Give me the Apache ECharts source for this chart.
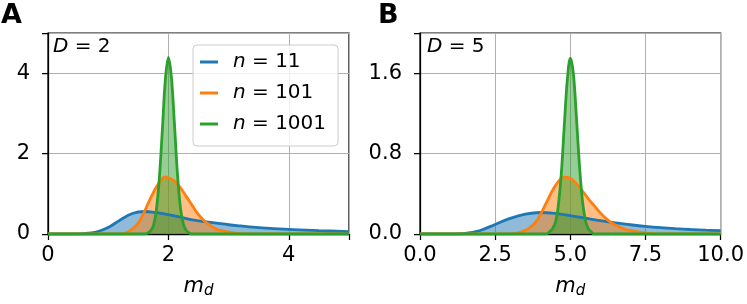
<!DOCTYPE html>
<html><head><meta charset="utf-8">
<script src="https://cdn.jsdelivr.net/npm/echarts@6/dist/echarts.min.js"></script>
<style>html,body{margin:0;padding:0;background:#fff}#c{width:747px;height:304px}</style>
</head><body><div id="c"></div>
<script>
const FONT = 'DejaVu Sans';
// ---- Panel A (D = 2) ----
const xA11 = [0, 0.4, 0.6, 0.8, 1.0, 1.2, 1.4, 1.6, 1.8, 2.0, 2.2, 2.4, 2.6, 2.8, 3.0, 3.2, 3.5, 4.0, 4.5, 5.0];
const yA11 = [0, 0, 0.01, 0.05, 0.16, 0.35, 0.51, 0.56, 0.53, 0.48, 0.42, 0.35, 0.31, 0.27, 0.23, 0.2, 0.16, 0.115, 0.085, 0.06];
const xA101 = [0, 1.2, 1.3, 1.4, 1.5, 1.6, 1.7, 1.8, 1.9, 1.95, 2.0, 2.1, 2.2, 2.3, 2.4, 2.5, 2.6, 2.7, 2.8, 2.9, 3.0, 3.2, 3.4, 5.0];
const yA101 = [0, 0, 0.03, 0.12, 0.27, 0.55, 0.88, 1.17, 1.38, 1.42, 1.40, 1.32, 1.15, 0.93, 0.70, 0.48, 0.32, 0.21, 0.12, 0.08, 0.05, 0.01, 0, 0];
const xA1001 = [0, 1.6, 1.65, 1.7, 1.75, 1.8, 1.85, 1.9, 1.95, 2.0, 2.05, 2.1, 2.15, 2.2, 2.25, 2.3, 2.35, 2.4, 5.0];
const yA1001 = [0, 0, 0.02, 0.07, 0.2, 0.6, 1.4, 2.6, 3.85, 4.39, 3.9, 2.75, 1.5, 0.65, 0.24, 0.08, 0.02, 0, 0];
// ---- Panel B (D = 5) ----
const xB11 = [0, 1.0, 1.5, 2.0, 2.5, 3.0, 3.5, 4.0, 4.5, 5.0, 5.5, 6.0, 6.5, 7.0, 7.5, 8.0, 8.5, 9.0, 9.5, 10.0];
const yB11 = [0, 0, 0.005, 0.035, 0.095, 0.155, 0.197, 0.214, 0.205, 0.183, 0.157, 0.132, 0.11, 0.092, 0.076, 0.063, 0.053, 0.045, 0.038, 0.033];
const xB101 = [0, 3.0, 3.3, 3.6, 3.9, 4.2, 4.5, 4.8, 5.0, 5.2, 5.4, 5.6, 5.8, 6.0, 6.2, 6.4, 6.6, 6.8, 7.0, 7.3, 7.6, 8.0, 10.0];
const yB101 = [0, 0, 0.015, 0.05, 0.14, 0.31, 0.48, 0.565, 0.555, 0.50, 0.43, 0.35, 0.28, 0.21, 0.15, 0.105, 0.075, 0.05, 0.035, 0.018, 0.007, 0, 0];
const xB1001 = [0, 4.2, 4.3, 4.4, 4.5, 4.6, 4.7, 4.8, 4.9, 5.0, 5.1, 5.2, 5.3, 5.4, 5.5, 5.6, 5.7, 5.8, 10.0];
const yB1001 = [0, 0, 0.02, 0.05, 0.11, 0.28, 0.6, 1.08, 1.53, 1.75, 1.6, 1.18, 0.7, 0.34, 0.14, 0.05, 0.02, 0, 0];
// ---- Ticks / labels ----
const ticksAx = [0, 2, 4];
const ticksAy = [0, 2, 4];
const ticksBx = [0, 2.5, 5, 7.5, 10];
const ticksBy = [0, 0.8, 1.6];
const legendNames = ['11', '101', '1001'];
const panelLabels = ['A', 'B'];
const panelD = ['2', '5'];
const colors = ['#1f77b4', '#ff7f0e', '#2ca02c'];
const fills = ['rgba(31,119,180,0.5)', 'rgba(255,127,14,0.5)', 'rgba(44,160,44,0.5)'];

const zip = (xs, ys) => xs.map((x, i) => [x, ys[i]]);
const panels = [
  [zip(xA11, yA11), zip(xA101, yA101), zip(xA1001, yA1001)],
  [zip(xB11, yB11), zip(xB101, yB101), zip(xB1001, yB1001)]
];

const inTicks = (v, arr) => arr.some(t => Math.abs(t - v) < 1e-9);
function xAxis(gi, max, interval, ticks, dec) {
  return {
    type: 'value', gridIndex: gi, min: 0, max: max, interval: interval,
    name: '{m|m}{d|d}', nameLocation: 'middle', nameGap: 40,
    nameTextStyle: { rich: {
      m: { fontStyle: 'italic', fontSize: 21, fontFamily: FONT, color: '#000' },
      d: { fontStyle: 'italic', fontSize: 15, fontFamily: FONT, color: '#000', padding: [10, 0, 0, 0] }
    } },
    axisLine: { show: true, onZero: false, lineStyle: { color: '#000', width: 1.25 } },
    axisTick: { show: true, length: 6, inside: false, lineStyle: { color: '#000', width: 1.25 } },
    axisLabel: { fontSize: 21, fontFamily: FONT, color: '#000', margin: 11,
      formatter: v => inTicks(v, ticks) ? v.toFixed(dec) : '' },
    splitLine: { show: true, lineStyle: { color: '#b0b0b0', width: 1 } }
  };
}
function yAxis(gi, max, interval, ticks, dec) {
  return {
    type: 'value', gridIndex: gi, min: 0, max: max, interval: interval,
    axisLine: { show: true, onZero: false, lineStyle: { color: '#000', width: 1.25 } },
    axisTick: { show: true, length: 6, inside: false, lineStyle: { color: '#000', width: 1.25 } },
    axisLabel: { fontSize: 21, fontFamily: FONT, color: '#000', margin: 18,
      formatter: v => inTicks(v, ticks) ? v.toFixed(dec) : '' },
    splitLine: { show: true, lineStyle: { color: '#b0b0b0', width: 1 } }
  };
}

const series = [];
panels.forEach((p, gi) => {
  p.forEach((d, k) => {
    series.push({
      name: 'fill' + gi + '_' + k, type: 'line', xAxisIndex: gi, yAxisIndex: gi,
      data: d, smooth: 0.35, showSymbol: false, silent: true,
      lineStyle: { width: 0, opacity: 0 }, areaStyle: { color: fills[k], opacity: 1 }, z: 2
    });
  });
});
panels.forEach((p, gi) => {
  p.forEach((d, k) => {
    series.push({
      name: legendNames[k], type: 'line', xAxisIndex: gi, yAxisIndex: gi,
      data: d, smooth: 0.35, showSymbol: false, silent: true,
      itemStyle: { color: colors[k] },
      lineStyle: { width: 2.8, color: colors[k] }, z: 3
    });
  });
});

const chart = echarts.init(document.getElementById('c'), null, { renderer: 'canvas' });
chart.setOption({
  animation: false,
  backgroundColor: '#fff',
  title: [
    { text: panelLabels[0], left: 1, top: 2, padding: 0, textStyle: { fontSize: 27, fontWeight: 'bold', fontFamily: FONT, color: '#000' } },
    { text: panelLabels[1], left: 378, top: 2, padding: 0, textStyle: { fontSize: 27, fontWeight: 'bold', fontFamily: FONT, color: '#000' } },
    { text: '{i|D} = ' + panelD[0], left: 53, top: 37, padding: 0, textStyle: { fontSize: 20, fontWeight: 'normal', fontFamily: FONT, color: '#000', rich: { i: { fontStyle: 'italic', fontSize: 20, fontFamily: FONT, color: '#000' } } } },
    { text: '{i|D} = ' + panelD[1], left: 427, top: 37, padding: 0, textStyle: { fontSize: 20, fontWeight: 'normal', fontFamily: FONT, color: '#000', rich: { i: { fontStyle: 'italic', fontSize: 20, fontFamily: FONT, color: '#000' } } } }
  ],
  legend: {
    data: legendNames, orient: 'vertical', left: 193, top: 45,
    padding: [7, 12, 12, 7], itemGap: 11, itemWidth: 18, itemHeight: 3, icon: 'rect',
    backgroundColor: 'rgba(255,255,255,0.8)', borderColor: '#cccccc', borderWidth: 1, borderRadius: 4,
    selectedMode: false,
    textStyle: { fontSize: 20, fontFamily: FONT, color: '#000', padding: [0, 0, 0, 10],
      rich: { i: { fontStyle: 'italic', fontSize: 20, fontFamily: FONT, color: '#000' } } },
    formatter: n => '{i|n} = ' + n
  },
  grid: [
    { left: 48, top: 33, width: 301, height: 204, show: true, borderColor: '#000', borderWidth: 1.25, containLabel: false },
    { left: 420, top: 33, width: 302, height: 204, show: true, borderColor: '#000', borderWidth: 1.25, containLabel: false }
  ],
  xAxis: [xAxis(0, 5, 2, ticksAx, 0), xAxis(1, 10, 2.5, ticksBx, 1)],
  yAxis: [yAxis(0, 5, 2, ticksAy, 0), yAxis(1, 2, 0.8, ticksBy, 1)],
  series: series
});
</script></body></html>
